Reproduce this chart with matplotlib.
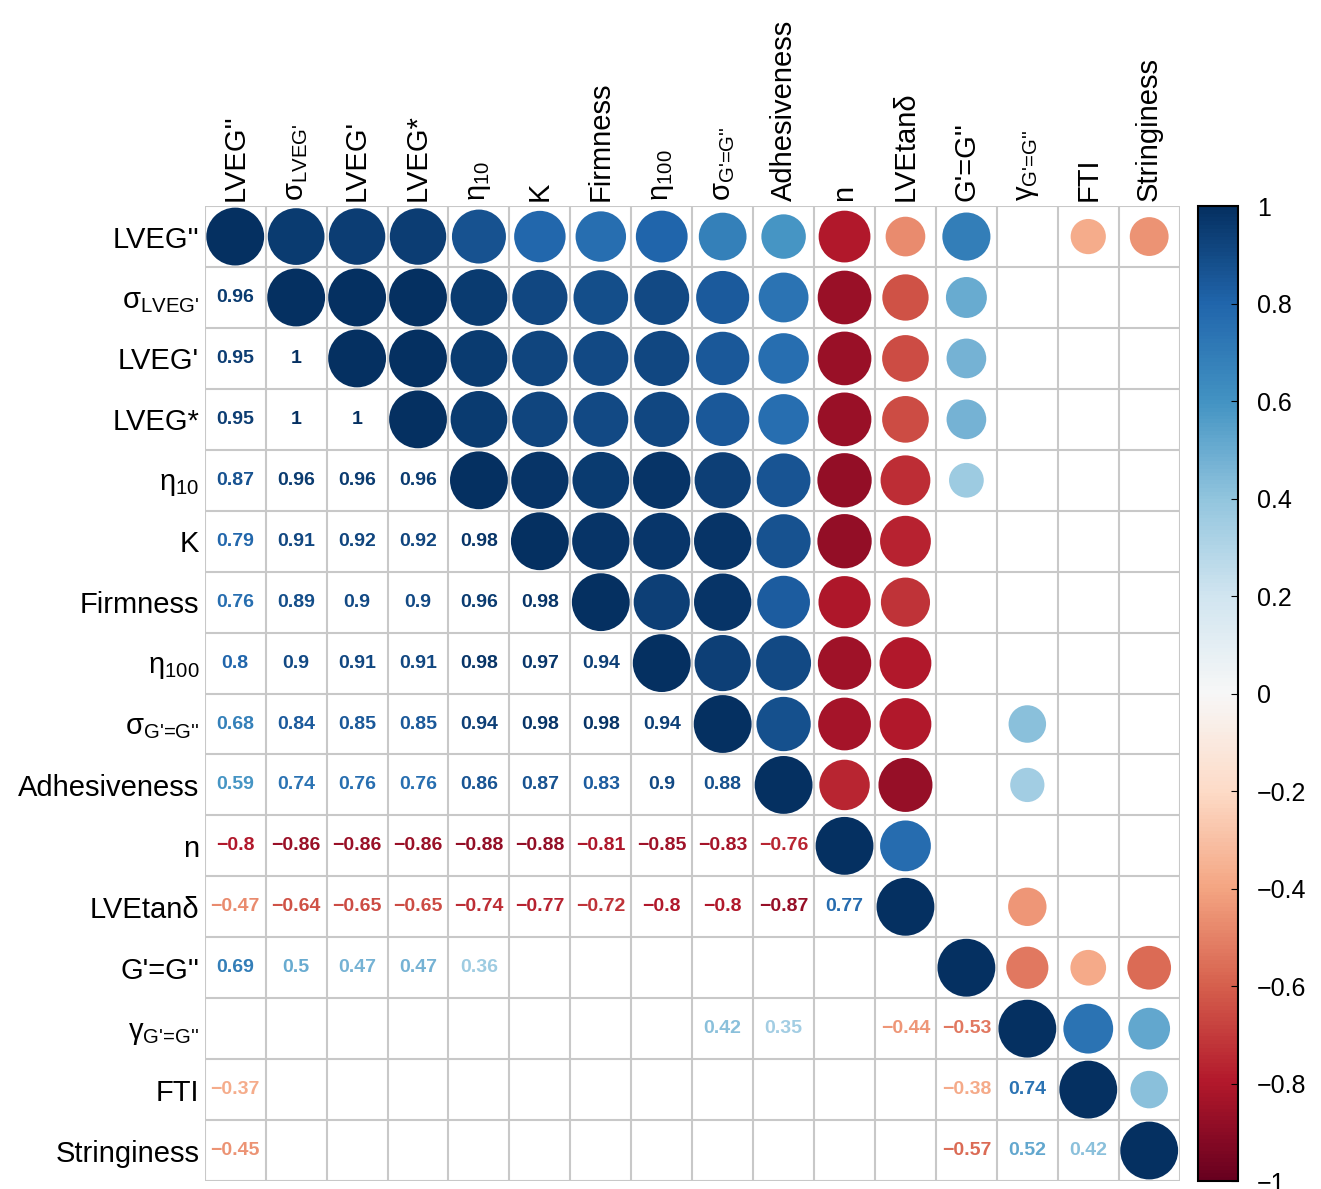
import numpy as np
import matplotlib
matplotlib.use("Agg")
import matplotlib.pyplot as plt
from matplotlib.patches import Circle
from matplotlib.colors import Normalize
import matplotlib.cm as cm

plt.rcParams["font.family"] = ["Liberation Sans", "DejaVu Sans"]
plt.rcParams["mathtext.fontset"] = "custom"
plt.rcParams["mathtext.rm"] = "Liberation Sans"
plt.rcParams["mathtext.it"] = "Liberation Sans"

labels = [r"LVEG''", r"$\mathregular{\sigma_{\text{LVEG'}}}$", "LVEG'", "LVEG*",
          r"$\mathregular{\eta_{10}}$", "K", "Firmness", r"$\mathregular{\eta_{100}}$",
          r"$\mathregular{\sigma_{\text{G'=G''}}}$", "Adhesiveness", "n", "LVEtanδ",
          "G'=G''", r"$\mathregular{\gamma_{\text{G'=G''}}}$", "FTI", "Stringiness"]

N = np.nan
lower_rows = [
    [],
    [0.96],
    [0.95, 1],
    [0.95, 1, 1],
    [0.87, 0.96, 0.96, 0.96],
    [0.79, 0.91, 0.92, 0.92, 0.98],
    [0.76, 0.89, 0.9, 0.9, 0.96, 0.98],
    [0.8, 0.9, 0.91, 0.91, 0.98, 0.97, 0.94],
    [0.68, 0.84, 0.85, 0.85, 0.94, 0.98, 0.98, 0.94],
    [0.59, 0.74, 0.76, 0.76, 0.86, 0.87, 0.83, 0.9, 0.88],
    [-0.8, -0.86, -0.86, -0.86, -0.88, -0.88, -0.81, -0.85, -0.83, -0.76],
    [-0.47, -0.64, -0.65, -0.65, -0.74, -0.77, -0.72, -0.8, -0.8, -0.87, 0.77],
    [0.69, 0.5, 0.47, 0.47, 0.36, N, N, N, N, N, N, N],
    [N, N, N, N, N, N, N, N, 0.42, 0.35, N, -0.44, -0.53],
    [-0.37, N, N, N, N, N, N, N, N, N, N, N, -0.38, 0.74],
    [-0.45, N, N, N, N, N, N, N, N, N, N, N, -0.57, 0.52, 0.42],
]

n = len(labels)
M = np.full((n, n), np.nan)
for i, row in enumerate(lower_rows):
    for j, v in enumerate(row):
        M[i, j] = v
        M[j, i] = v
    M[i, i] = 1.0

cmap = plt.get_cmap("RdBu")
norm = Normalize(-1, 1)

fig = plt.figure(figsize=(13.21, 11.89), dpi=100)
ax = fig.add_axes([0.155, 0.0067, 0.738, 0.82])
ax.set_xlim(0, n)
ax.set_ylim(n, 0)
ax.set_aspect("equal")
for k in range(n + 1):
    ax.axhline(k, color="#c8c8c8", lw=1.5)
    ax.axvline(k, color="#c8c8c8", lw=1.5)
for i in range(n):
    for j in range(n):
        v = M[i, j]
        if np.isnan(v):
            continue
        c = cmap(norm(v))
        if j >= i:
            ax.add_patch(Circle((j + 0.5, i + 0.5), 0.475 * np.sqrt(abs(v)),
                                facecolor=c, edgecolor="none"))
        else:
            ax.text(j + 0.5, i + 0.5, f"{v:g}".replace("-", "−"), color=c,
                    ha="center", va="center", fontsize=14, fontweight="bold")
ax.set_xticks(np.arange(n) + 0.5)
ax.set_yticks(np.arange(n) + 0.5)
ax.set_xticklabels(labels, rotation=90, fontsize=21)
ax.set_yticklabels(labels, fontsize=21)
ax.xaxis.tick_top()
ax.tick_params(length=0, pad=4)
for s in ax.spines.values():
    s.set_visible(False)

cax = fig.add_axes([0.907, 0.0067, 0.030, 0.82])
cb = fig.colorbar(cm.ScalarMappable(norm=norm, cmap=cmap), cax=cax)
ticks = np.round(np.arange(-1, 1.01, 0.2), 1)
cb.set_ticks(ticks)
cb.set_ticklabels([f"{t + 0:g}".replace("-", "−") for t in ticks])
cax.tick_params(labelsize=18, length=5, direction="in", pad=14)
cb.outline.set_linewidth(1.5)

fig.savefig("out.png", dpi=100)
